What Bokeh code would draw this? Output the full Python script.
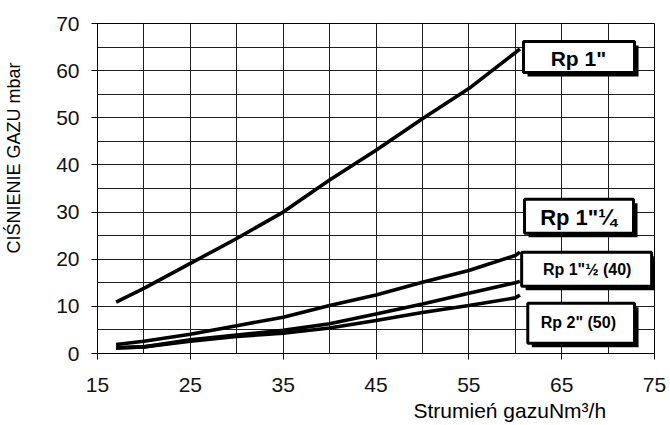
from bokeh.plotting import figure
from bokeh.models import Range1d, FixedTicker, BoxAnnotation, Label, Title
from bokeh.embed import file_html
from bokeh.resources import INLINE

# ---- data ----
flow = [17, 20, 25, 30, 35, 40, 45, 50, 55, 60, 60.5]
rp_1 = [10.9, 13.8, 19.1, 24.4, 30.0, 36.8, 43.1, 49.8, 56.2, 63.8, 64.6]
rp_1_14 = [1.9, 2.6, 4.1, 5.9, 7.7, 10.2, 12.4, 15.1, 17.6, 20.8, 21.5]
rp_1_12 = [1.2, 1.4, 2.9, 3.9, 4.9, 6.3, 8.4, 10.5, 12.8, 15.0, 15.3]
rp_2 = [1.2, 1.4, 2.6, 3.6, 4.3, 5.4, 7.0, 8.7, 10.2, 11.8, 12.4]
series = [rp_1, rp_1_14, rp_1_12, rp_2]

x_ticks = [15, 25, 35, 45, 55, 65, 75]
x_minor = [20, 30, 40, 50, 60, 70]
y_ticks = [0, 10, 20, 30, 40, 50, 60, 70]
y_minor = [5, 15, 25, 35, 45, 55, 65]

label_texts = ['Rp 1"', 'Rp 1"\u00bc', 'Rp 1"\u00bd (40)', 'Rp 2" (50)']
# label box: centre x, centre y, width, height (data units); text pos; font size
box_cx = [66.87, 66.87, 67.69, 67.1]
box_cy = [62.9, 29.1, 17.86, 6.42]
box_w = [11.96, 11.74, 14.0, 11.5]
box_h = [6.57, 7.2, 7.2, 8.5]
txt_x = [66.8, 66.8, 67.75, 66.8]
txt_y = [62.6, 28.9, 17.9, 6.6]
txt_size = ["21px", "22px", "16px", "16px"]

FONT = "Liberation Sans"

p = figure(width=668, height=424, output_backend="svg", toolbar_location=None,
           x_range=Range1d(15, 75), y_range=Range1d(0, 70),
           min_border_left=97, min_border_right=14, min_border_top=23,
           min_border_bottom=71)
p.background_fill_color = "white"
p.border_fill_color = "white"
p.outline_line_color = "black"
p.outline_line_width = 1

p.xaxis.ticker = FixedTicker(ticks=x_ticks, minor_ticks=x_minor)
p.yaxis.ticker = FixedTicker(ticks=y_ticks, minor_ticks=y_minor)

for ax in (p.xaxis, p.yaxis):
    ax.axis_line_color = "black"
    ax.major_tick_line_color = "black"
    ax.major_tick_out = 6
    ax.major_tick_in = 0
    ax.minor_tick_line_color = None
    ax.major_label_text_font = FONT
    ax.major_label_text_font_size = "21px"
    ax.major_label_text_color = "#111111"
p.xaxis.major_label_standoff = 18
p.yaxis.major_label_standoff = 12
# spacer between the y tick labels and the y title
p.yaxis.axis_label = " "
p.yaxis.axis_label_text_font_size = "2px"
p.yaxis.axis_label_standoff = 24

for g in (p.xgrid, p.ygrid):
    g.grid_line_color = "#1e1e1e"
    g.grid_line_width = 1
    g.minor_grid_line_color = "#1e1e1e"
    g.minor_grid_line_width = 1

for ys in series:
    p.line(flow, ys, line_color="black", line_width=3.6)

# label boxes with drop shadow
sx = 4 / 9.283
sy = 4 / 4.719
for cx, cy, w, h in zip(box_cx, box_cy, box_w, box_h):
    p.add_layout(BoxAnnotation(left=cx - w / 2 + sx, right=cx + w / 2 + sx,
                               bottom=cy - h / 2 - sy, top=cy + h / 2 - sy,
                               fill_color="black", fill_alpha=1, line_color=None))
    p.add_layout(BoxAnnotation(left=cx - w / 2, right=cx + w / 2,
                               bottom=cy - h / 2, top=cy + h / 2,
                               fill_color="white", fill_alpha=1,
                               line_color="black", line_alpha=1, line_width=3))
for t, x, y, s in zip(label_texts, txt_x, txt_y, txt_size):
    p.add_layout(Label(x=x, y=y, text=t, text_align="center", text_baseline="middle",
                       text_font=FONT, text_font_style="bold", text_font_size=s,
                       text_color="black"))

# axis titles
p.add_layout(Title(text="CIŚNIENIE GAZU mbar", align="left", offset=100,
                   standoff=0, text_font=FONT,
                   text_font_size="18px", text_font_style="normal",
                   text_color="black"), "left")
p.add_layout(Title(text="Strumień gazuNm³/h", align="left", offset=316,
                   standoff=4, text_font=FONT, text_font_size="21px",
                   text_font_style="normal", text_color="black"), "below")

open("out.html", "w").write(file_html(p, INLINE))
